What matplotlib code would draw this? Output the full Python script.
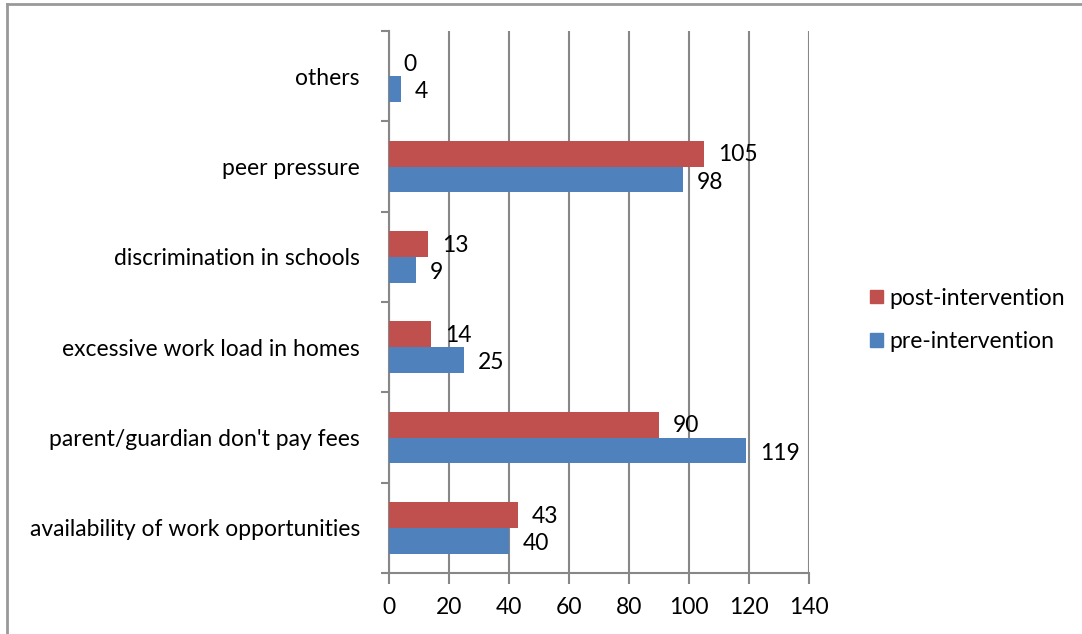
import numpy as np
import matplotlib.pyplot as plt
from matplotlib.lines import Line2D
from matplotlib.patches import Patch

categories = ["availability of work opportunities", "parent/guardian don't pay fees",
              "excessive work load in homes", "discrimination in schools",
              "peer pressure", "others"]
pre = [40, 119, 25, 9, 98, 4]
post = [43, 90, 14, 13, 105, 0]

red = '#C0504D'
blue = '#4F81BD'
grid_col = '#878787'
fs = 16.5

plt.rcParams['font.family'] = ['Lato', 'DejaVu Sans']
plt.rcParams['font.size'] = fs

fig = plt.figure(figsize=(10.82, 6.34), dpi=100)
ax = fig.add_axes([389/1082, 1 - 573/634, 420/1082, 542/634])

y = np.arange(len(categories))
h = 1 / 3.5  # gap width 150%
ax.barh(y - h/2, pre, height=h, color=blue, zorder=3)
ax.barh(y + h/2, post, height=h, color=red, zorder=3)

# value labels
for yi, v in zip(y, pre):
    ax.annotate(str(v), (v, yi - h/2), xytext=(10, -2), textcoords='offset points',
                va='center', ha='left', fontsize=fs)
for yi, v in zip(y, post):
    ax.annotate(str(v), (v, yi + h/2), xytext=(10, -1), textcoords='offset points',
                va='center', ha='left', fontsize=fs)

ax.set_xlim(0, 140)
ax.set_ylim(-0.5, len(categories) - 0.5)
ax.set_xticks(np.arange(0, 141, 20))
ax.set_yticks(y)
ax.set_yticklabels(categories)
ax.set_yticks(np.arange(-0.5, len(categories), 1), minor=True)
ax.tick_params(axis='y', which='major', length=0, pad=21)
ax.tick_params(axis='y', which='minor', length=6, width=1.5, color=grid_col)
ax.tick_params(axis='x', length=8, width=1.5, color=grid_col, pad=9)
ax.xaxis.grid(True, color=grid_col, linewidth=1.5, zorder=0)
ax.set_axisbelow(True)
for s in ['top', 'right']:
    ax.spines[s].set_visible(False)
for s in ['left', 'bottom']:
    ax.spines[s].set_color(grid_col)
    ax.spines[s].set_linewidth(1.5)

handles = [Patch(color=red, label='post-intervention'),
           Patch(color=blue, label='pre-intervention')]
fig.legend(handles=handles, loc='center left', bbox_to_anchor=(870/1082, 1 - 320/634),
           frameon=False, handlelength=0.55, handleheight=0.55, handletextpad=0.3,
           labelspacing=1.0, fontsize=fs, borderpad=0, borderaxespad=0)

# outer chart border
fig.add_artist(Line2D([7/1082, 1], [1 - 4/634] * 2, color='#999999', linewidth=2,
                      transform=fig.transFigure))
fig.add_artist(Line2D([7/1082] * 2, [0, 1 - 4/634], color='#999999', linewidth=2,
                      transform=fig.transFigure))

fig.savefig('out.png', dpi=100)
